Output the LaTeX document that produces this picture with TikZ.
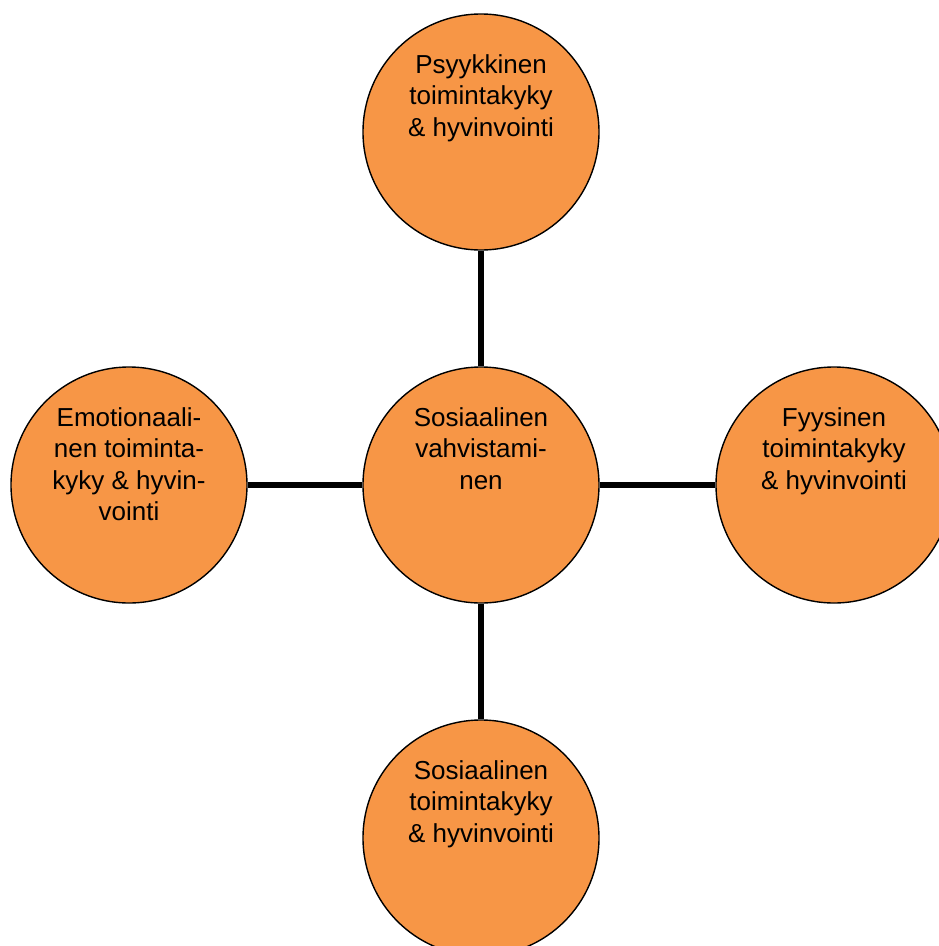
\documentclass[tikz,border=0pt]{standalone}
\usepackage{fontspec}
\setmainfont{Liberation Sans}
\definecolor{orangefill}{HTML}{F79646}
\begin{document}
\begin{tikzpicture}[x=1pt,y=-1pt,
  bubble/.style={circle, draw=black, line width=1.4pt, fill=orangefill, minimum size=236pt, inner sep=0pt},
  bubbletext/.style={anchor=north, align=center, inner sep=0pt, font=\fontsize{26pt}{31.5pt}\selectfont},
  link/.style={line width=5.5pt, draw=black}]
\useasboundingbox (0,0) rectangle (939,946);
\node[bubble] (top) at (481,132) {};
\node[bubble] (mid) at (481,485) {};
\node[bubble] (left) at (129,485) {};
\node[bubble] (right) at (834,485) {};
\node[bubble] (bot) at (481,838) {};
\draw[link] (top.south) -- (mid.north);
\draw[link] (mid.west) -- (left.east);
\draw[link] (mid.east) -- (right.west);
\draw[link] (mid.south) -- (bot.north);
\node[bubbletext] (ttop) at ([yshift=-41pt]top.north) {Psyykkinen\\toimintakyky\\\& hyvinvointi};
\node[bubbletext] (tmid) at ([yshift=-41pt]mid.north) {Sosiaalinen\\vahvistami-\\nen};
\node[bubbletext] (tleft) at ([yshift=-41pt]left.north) {Emotionaali-\\nen toiminta-\\kyky \& hyvin-\\vointi};
\node[bubbletext] (tright) at ([yshift=-41pt]right.north) {Fyysinen\\toimintakyky\\\& hyvinvointi};
\node[bubbletext] (tbot) at ([yshift=-41pt]bot.north) {Sosiaalinen\\toimintakyky\\\& hyvinvointi};
\end{tikzpicture}
\end{document}
